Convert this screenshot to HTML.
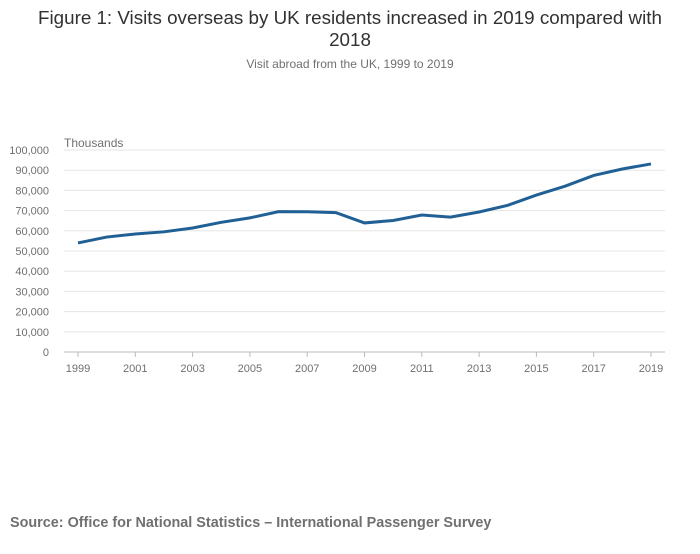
<!DOCTYPE html>
<html><head><meta charset="utf-8"><style>
body{margin:0;background:#fff;width:700px;height:549px;overflow:hidden;font-family:"Liberation Sans",sans-serif;}
</style></head><body>
<svg width="700" height="549" xmlns="http://www.w3.org/2000/svg">
<text x="350" y="24" text-anchor="middle" font-size="18.8" fill="#323132">Figure 1: Visits overseas by UK residents increased in 2019 compared with</text>
<text x="350" y="46" text-anchor="middle" font-size="18.8" fill="#323132">2018</text>
<text x="350" y="68" text-anchor="middle" font-size="12" fill="#707071">Visit abroad from the UK, 1999 to 2019</text>
<text x="64" y="147" font-size="12" fill="#707071">Thousands</text>
<g id="grid"></g><g id="xt"></g>
<path id="line" fill="none" stroke="#206095" stroke-width="3"/>
<text x="10" y="527" font-size="14.4" font-weight="bold" fill="#707071">Source: Office for National Statistics – International Passenger Survey</text>
</svg>
<script>
const years=[1999,2000,2001,2002,2003,2004,2005,2006,2007,2008,2009,2010,2011,2012,2013,2014,2015,2016,2017,2018,2019];
const visits=[54000,56900,58400,59500,61400,64200,66400,69500,69400,69000,63900,65100,67800,66800,69300,72600,77700,82100,87400,90600,93100];
const yTicks=[0,10000,20000,30000,40000,50000,60000,70000,80000,90000,100000];
const xTicks=[1999,2001,2003,2005,2007,2009,2011,2013,2015,2017,2019];
const ns="http://www.w3.org/2000/svg";
const x=v=>78+(v-1999)*(651-78)/20;
const y=v=>352-v*202/100000;
const g=document.getElementById('grid'),xt=document.getElementById('xt');
yTicks.forEach(t=>{
 const l=document.createElementNS(ns,'line');
 
 
 l.setAttribute('x1',64);l.setAttribute('x2',665);l.setAttribute('y1',y(t));l.setAttribute('y2',y(t));
 l.setAttribute('stroke',t===0?'#bbb':'#e5e5e5');l.setAttribute('stroke-width',1);g.appendChild(l);
 const tx=document.createElementNS(ns,'text');
 
 
 tx.setAttribute('x',49);tx.setAttribute('y',y(t)+4);tx.setAttribute('text-anchor','end');tx.setAttribute('font-size',11);tx.setAttribute('fill','#707071');
 tx.textContent=t.toLocaleString('en-GB');g.appendChild(tx);
});
xTicks.forEach(t=>{
 const l=document.createElementNS(ns,'line');
 
 
 l.setAttribute('x1',x(t));l.setAttribute('x2',x(t));l.setAttribute('y1',352);l.setAttribute('y2',357);l.setAttribute('stroke','#bbb');xt.appendChild(l);
 const tx=document.createElementNS(ns,'text');
 
 
 tx.setAttribute('x',x(t));tx.setAttribute('y',372);tx.setAttribute('text-anchor','middle');tx.setAttribute('font-size',11);tx.setAttribute('fill','#707071');
 tx.textContent=t;xt.appendChild(tx);
});
document.getElementById('line').setAttribute('d',years.map((yr,i)=>(i?'L':'M')+x(yr)+','+y(visits[i])).join(''));
</script>
</body></html>
